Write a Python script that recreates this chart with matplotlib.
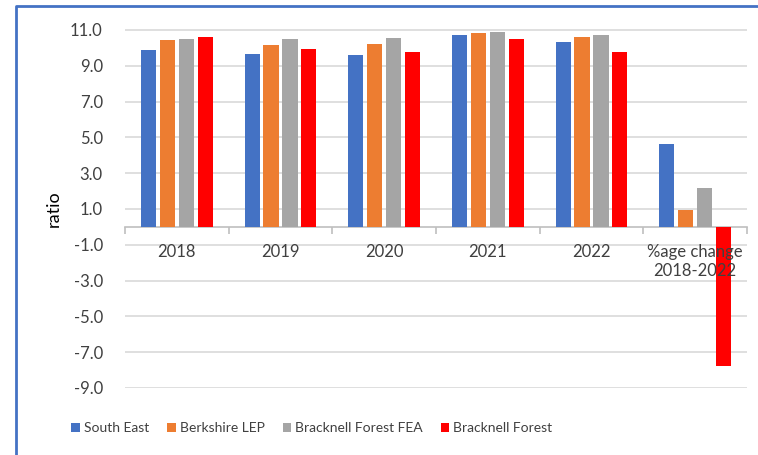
import numpy as np
import matplotlib
matplotlib.use("Agg")
import matplotlib.pyplot as plt
from matplotlib.lines import Line2D
from matplotlib.ticker import FormatStrFormatter

plt.rcParams['font.family'] = ['Lato', 'DejaVu Sans']

categories = ['2018', '2019', '2020', '2021', '2022', '%age change\n2018-2022']
series = ['South East', 'Berkshire LEP', 'Bracknell Forest FEA', 'Bracknell Forest']
south_east = [9.87, 9.65, 9.59, 10.70, 10.32, 4.61]
berkshire_lep = [10.43, 10.15, 10.20, 10.83, 10.61, 0.94]
bracknell_fea = [10.48, 10.48, 10.56, 10.89, 10.70, 2.15]
bracknell_forest = [10.61, 9.93, 9.76, 10.48, 9.76, -7.78]
colors = ['#4472C4', '#ED7D31', '#A5A5A5', '#FF0000']
yticks = np.arange(-9, 12, 2)

fig = plt.figure(figsize=(7.58, 4.55), dpi=100)
ax = fig.add_axes([125 / 758, 1 - 388 / 455, 622 / 758, 359 / 455])

x = np.arange(len(categories))
width = 0.145
step = 0.183
for i, (name, vals) in enumerate(zip(series, [south_east, berkshire_lep, bracknell_fea, bracknell_forest])):
    ax.bar(x + (i - 1.5) * step, vals, width, color=colors[i], label=name, zorder=2)

ax.set_xlim(-0.5, len(categories) - 0.5)
ax.set_ylim(-9, 11.05)
ax.set_yticks(yticks)
ax.yaxis.set_major_formatter(FormatStrFormatter('%.1f'))
# gridlines drawn by hand so the tick labels can sit above the bars
for yv in yticks:
    ax.axhline(yv, color='#d9d9d9', linewidth=1.2, zorder=0)
ax.set_axisbelow(False)

for s in ['top', 'right', 'left']:
    ax.spines[s].set_visible(False)
ax.spines['bottom'].set_position(('data', 0))
ax.spines['bottom'].set_color('#bfbfbf')
ax.spines['bottom'].set_linewidth(1.2)
ax.spines['bottom'].set_zorder(1)

ax.set_xticks(x)
ax.set_xticklabels(categories, fontsize=12, color='#404040', linespacing=1.3)
ax.set_xticks(np.arange(-0.5, len(categories)), minor=True)
ax.tick_params(axis='x', which='major', length=0, pad=12)
ax.tick_params(axis='x', which='minor', length=5, color='#bfbfbf', width=1.2)
ax.tick_params(axis='y', length=0, labelsize=12, labelcolor='#404040', pad=16)

ax.set_ylabel('ratio', fontsize=13, color='#000000', labelpad=6)

fig.legend(loc='center', bbox_to_anchor=(312 / 758, 1 - 428 / 455), ncol=4,
           frameon=False, fontsize=10, handlelength=0.6, handleheight=0.6,
           handletextpad=0.3, columnspacing=1.3, labelcolor='#404040')

# chart border (left and top edges visible)
fig.add_artist(Line2D([16 / 758, 16 / 758, 1.0], [0.0, 1 - 6 / 455, 1 - 6 / 455],
                      color='#4472C4', linewidth=2, transform=fig.transFigure))

fig.savefig('out.png', dpi=100)
